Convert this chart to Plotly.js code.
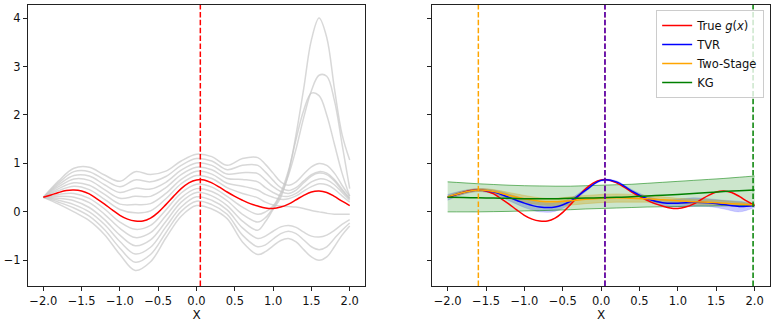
<!DOCTYPE html>
<html>
<head>
<meta charset="utf-8">
<script src="https://cdn.plot.ly/plotly-3.0.1.min.js"></script>
<style>
  html, body { margin: 0; padding: 0; background: white; }
  #chart { width: 775px; height: 323px; }
</style>
</head>
<body>
<div id="chart"></div>
<script>
// fine grid for the true function
const xTrue = [-2.0, -1.9, -1.8, -1.7, -1.6, -1.5, -1.4, -1.3, -1.2, -1.1, -1.0, -0.9, -0.8, -0.7, -0.6, -0.5, -0.4, -0.3, -0.2, -0.1,
    0.0, 0.1, 0.2, 0.3, 0.4, 0.5, 0.6, 0.7, 0.8, 0.9, 1.0, 1.1, 1.2, 1.3, 1.4, 1.5, 1.6, 1.7, 1.8, 1.9, 2.0];
const gTrue = [0.30, 0.35, 0.40, 0.44, 0.45, 0.43, 0.37, 0.27, 0.16, 0.04, -0.07, -0.15, -0.19, -0.19, -0.13, -0.01, 0.15, 0.32, 0.48, 0.60,
    0.66, 0.66, 0.60, 0.51, 0.41, 0.32, 0.24, 0.17, 0.12, 0.08, 0.07, 0.10, 0.16, 0.25, 0.34, 0.41, 0.43, 0.40, 0.32, 0.22, 0.13];

// grid for the grey sample curves (left panel)
const xSamples = [-2.0, -1.8, -1.6, -1.4, -1.2, -1.0, -0.8, -0.6, -0.4, -0.2, 0.0, 0.2, 0.4, 0.6, 0.8,
    0.9, 1.0, 1.1, 1.2, 1.3, 1.4, 1.5, 1.6, 1.7, 1.8, 1.9, 2.0];
const sampleU1 = [0.30, 0.44, 0.53, 0.46, 0.26, 0.05, -0.02, 0.02, 0.27, 0.58, 0.75, 0.69, 0.50, 0.38, 0.29,
    0.20, 0.14, 0.12, 0.11, 0.10, 0.07, 0.03, 0.00, -0.03, -0.05, -0.05, -0.05];
const sampleU2 = [0.30, 0.48, 0.60, 0.55, 0.36, 0.16, 0.15, 0.17, 0.38, 0.67, 0.84, 0.78, 0.59, 0.53, 0.45,
    0.36, 0.30, 0.26, 0.27, 0.33, 0.43, 0.52, 0.58, 0.56, 0.47, 0.33, 0.20];
const sampleU3 = [0.30, 0.52, 0.68, 0.65, 0.46, 0.28, 0.32, 0.32, 0.50, 0.77, 0.92, 0.87, 0.69, 0.67, 0.62,
    0.50, 0.40, 0.33, 0.32, 0.38, 0.50, 0.62, 0.68, 0.66, 0.56, 0.40, 0.24];
const sampleU4 = [0.30, 0.56, 0.75, 0.74, 0.56, 0.40, 0.49, 0.47, 0.61, 0.86, 1.01, 0.96, 0.78, 0.81, 0.79,
    0.66, 0.52, 0.42, 0.38, 0.45, 0.60, 0.74, 0.80, 0.77, 0.64, 0.44, 0.27];
const sampleU5 = [0.30, 0.60, 0.83, 0.83, 0.66, 0.52, 0.66, 0.62, 0.73, 0.96, 1.10, 1.05, 0.87, 0.96, 0.96,
    0.82, 0.65, 0.50, 0.44, 0.50, 0.64, 0.77, 0.83, 0.80, 0.67, 0.47, 0.28];
const sampleU6 = [0.30, 0.64, 0.90, 0.92, 0.76, 0.63, 0.83, 0.77, 0.84, 1.05, 1.19, 1.14, 0.96, 1.10, 1.12,
    0.98, 0.80, 0.62, 0.55, 0.62, 0.78, 0.93, 1.00, 0.96, 0.80, 0.55, 0.32];
const sampleL1 = [0.30, 0.36, 0.38, 0.28, 0.06, -0.21, -0.36, -0.28, 0.04, 0.39, 0.57, 0.51, 0.32, 0.10, -0.05,
    0.00, 0.12, 0.40, 0.85, 1.50, 2.10, 2.45, 2.40, 2.00, 1.40, 0.80, 0.32];
const sampleL2 = [0.30, 0.32, 0.30, 0.19, -0.05, -0.34, -0.53, -0.43, -0.08, 0.29, 0.48, 0.42, 0.23, -0.05, -0.21,
    -0.12, 0.08, 0.35, 0.75, 1.30, 1.95, 2.50, 2.82, 2.80, 2.30, 1.40, 0.48];
const sampleL3 = [0.30, 0.28, 0.23, 0.09, -0.16, -0.48, -0.70, -0.58, -0.20, 0.20, 0.40, 0.33, 0.13, -0.19, -0.38,
    -0.20, 0.05, 0.30, 0.80, 1.60, 2.55, 3.55, 4.00, 3.60, 2.55, 1.60, 1.07];
const sampleL4 = [0.30, 0.24, 0.15, 0.00, -0.26, -0.61, -0.87, -0.73, -0.31, 0.10, 0.31, 0.24, 0.04, -0.33, -0.55,
    -0.50, -0.40, -0.31, -0.28, -0.32, -0.42, -0.50, -0.52, -0.48, -0.38, -0.26, -0.16];
const sampleL5 = [0.30, 0.20, 0.08, -0.09, -0.37, -0.75, -1.04, -0.88, -0.43, 0.01, 0.22, 0.15, -0.05, -0.48, -0.72,
    -0.68, -0.56, -0.45, -0.40, -0.45, -0.58, -0.72, -0.78, -0.72, -0.55, -0.38, -0.23];
const sampleL6 = [0.30, 0.16, 0.00, -0.18, -0.47, -0.88, -1.21, -1.03, -0.54, -0.09, 0.13, 0.06, -0.14, -0.62, -0.88,
    -0.82, -0.70, -0.59, -0.55, -0.62, -0.78, -0.93, -1.00, -0.93, -0.72, -0.48, -0.29];

// grid for the model fits (right panel)
const xFit = [-2.0, -1.8, -1.6, -1.4, -1.2, -1.0, -0.8, -0.6, -0.4, -0.2, 0.0, 0.2, 0.4, 0.6, 0.8, 1.0, 1.2, 1.4, 1.6, 1.8, 2.0];
const tvrMean = [0.30, 0.40, 0.45, 0.41, 0.30, 0.18, 0.10, 0.10, 0.22, 0.45, 0.65, 0.62, 0.43, 0.27, 0.19, 0.18, 0.20, 0.19, 0.15, 0.11, 0.13];
const tvrUpper = [0.36, 0.44, 0.48, 0.45, 0.37, 0.27, 0.20, 0.19, 0.28, 0.48, 0.67, 0.64, 0.46, 0.32, 0.25, 0.26, 0.29, 0.27, 0.24, 0.22, 0.17];
const tvrLower = [0.24, 0.36, 0.42, 0.37, 0.23, 0.09, 0.00, 0.01, 0.16, 0.42, 0.63, 0.60, 0.40, 0.22, 0.13, 0.10, 0.11, 0.11, 0.06, 0.00, 0.09];
const twoStageMean = [0.31, 0.40, 0.45, 0.42, 0.34, 0.27, 0.22, 0.21, 0.23, 0.26, 0.28, 0.29, 0.28, 0.27, 0.25, 0.23, 0.21, 0.20, 0.18, 0.16, 0.14];
const twoStageUpper = [0.33, 0.43, 0.48, 0.46, 0.40, 0.34, 0.29, 0.28, 0.31, 0.34, 0.36, 0.37, 0.36, 0.34, 0.31, 0.28, 0.26, 0.25, 0.23, 0.20, 0.16];
const twoStageLower = [0.29, 0.37, 0.42, 0.38, 0.28, 0.20, 0.15, 0.13, 0.14, 0.17, 0.19, 0.20, 0.20, 0.20, 0.19, 0.18, 0.16, 0.15, 0.13, 0.12, 0.12];
const kgMean = [0.30, 0.295, 0.29, 0.285, 0.28, 0.27, 0.27, 0.27, 0.28, 0.285, 0.29, 0.30, 0.31, 0.33, 0.345, 0.36, 0.38, 0.40, 0.42, 0.435, 0.45];
const kgUpper = [0.62, 0.60, 0.58, 0.565, 0.55, 0.54, 0.535, 0.53, 0.53, 0.54, 0.55, 0.56, 0.57, 0.59, 0.61, 0.63, 0.65, 0.67, 0.69, 0.715, 0.74];
const kgLower = [0.0, 0.0, 0.0, 0.005, 0.01, 0.02, 0.025, 0.035, 0.045, 0.06, 0.07, 0.08, 0.09, 0.10, 0.105, 0.11, 0.12, 0.12, 0.125, 0.13, 0.13];

// chosen points (vertical markers)
const trueArgmax = 0.05;
const tvrPick = 0.05;
const twoStagePick = -1.6;
const kgPick = 1.98;

const xTicks = [-2.0, -1.5, -1.0, -0.5, 0.0, 0.5, 1.0, 1.5, 2.0];
const yTicks = [-1, 0, 1, 2, 3, 4];

const samples = [sampleU6, sampleU5, sampleU4, sampleU3, sampleU2, sampleU1,
    sampleL1, sampleL2, sampleL3, sampleL4, sampleL5, sampleL6];

const dash = '5.5px,2.4px';
const traces = [];

// left panel: grey sample curves and the true function
samples.forEach(ys => {
    traces.push({
        x: xSamples, y: ys, xaxis: 'x', yaxis: 'y', type: 'scatter', mode: 'lines',
        line: { color: 'rgba(200,200,200,0.7)', width: 1.5, shape: 'spline', smoothing: 1 },
        showlegend: false, hoverinfo: 'skip'
    });
});
traces.push({
    x: xTrue, y: gTrue, xaxis: 'x', yaxis: 'y', type: 'scatter', mode: 'lines',
    line: { color: 'red', width: 1.5, shape: 'spline' }, showlegend: false
});

// right panel: bands first, then lines
function band(lower, upper, fillColor, edgeColor) {
    traces.push({
        x: xFit, y: lower, xaxis: 'x2', yaxis: 'y2', type: 'scatter', mode: 'lines',
        line: { color: edgeColor, width: 1, shape: 'spline' }, showlegend: false, hoverinfo: 'skip'
    });
    traces.push({
        x: xFit, y: upper, xaxis: 'x2', yaxis: 'y2', type: 'scatter', mode: 'lines',
        fill: 'tonexty', fillcolor: fillColor,
        line: { color: edgeColor, width: 1, shape: 'spline' }, showlegend: false, hoverinfo: 'skip'
    });
}
band(tvrLower, tvrUpper, 'rgba(0,0,255,0.22)', 'rgba(0,0,255,0.12)');
band(twoStageLower, twoStageUpper, 'rgba(255,165,0,0.3)', 'rgba(255,165,0,0.25)');
band(kgLower, kgUpper, 'rgba(0,128,0,0.2)', 'rgba(0,128,0,0.55)');

traces.push({
    x: xTrue, y: gTrue, xaxis: 'x2', yaxis: 'y2', type: 'scatter', mode: 'lines',
    name: 'True <i>g</i>(<i>x</i>)', line: { color: 'red', width: 1.5, shape: 'spline' }
});
traces.push({
    x: xFit, y: tvrMean, xaxis: 'x2', yaxis: 'y2', type: 'scatter', mode: 'lines',
    name: 'TVR', line: { color: 'blue', width: 1.5, shape: 'spline' }
});
traces.push({
    x: xFit, y: twoStageMean, xaxis: 'x2', yaxis: 'y2', type: 'scatter', mode: 'lines',
    name: 'Two-Stage', line: { color: 'orange', width: 1.5, shape: 'spline' }
});
traces.push({
    x: xFit, y: kgMean, xaxis: 'x2', yaxis: 'y2', type: 'scatter', mode: 'lines',
    name: 'KG', line: { color: 'green', width: 1.5, shape: 'spline' }
});

function vline(xref, yref, x, color, opacity) {
    return {
        type: 'line', xref: xref, yref: yref, x0: x, x1: x, y0: 0, y1: 1,
        opacity: opacity || 1,
        line: { color: color, width: 1.5, dash: dash }
    };
}

const axisStyle = {
    range: [-2.2, 2.2],
    tickvals: xTicks,
    tickformat: '.1f',
    ticks: 'outside', ticklen: 4, tickwidth: 1, tickcolor: '#222',
    showline: true, linecolor: '#222', linewidth: 1, mirror: true,
    showgrid: false, zeroline: false,
    tickfont: { size: 11.5, color: '#111' },
    title: { text: 'X', font: { size: 12, color: '#111' }, standoff: 2 },
    automargin: false
};
const yStyle = {
    range: [-1.53, 4.27],
    tickvals: yTicks,
    ticks: 'outside', ticklen: 4, tickwidth: 1, tickcolor: '#222',
    showline: true, linecolor: '#222', linewidth: 1, mirror: true,
    showgrid: false, zeroline: false,
    tickfont: { size: 11.5, color: '#111' },
    automargin: false
};

const layout = {
    width: 775, height: 323,
    margin: { l: 0, r: 0, t: 5, b: 37 },
    paper_bgcolor: 'white', plot_bgcolor: 'white',
    font: { family: 'DejaVu Sans', color: '#111' },
    xaxis: Object.assign({}, axisStyle, { domain: [0.0361, 0.4710], anchor: 'y' }),
    yaxis: Object.assign({}, yStyle, { domain: [0, 1], anchor: 'x' }),
    xaxis2: Object.assign({}, axisStyle, { domain: [0.5578, 0.9935], anchor: 'y2' }),
    yaxis2: Object.assign({}, yStyle, { domain: [0, 1], anchor: 'x2', showticklabels: false }),
    showlegend: true,
    legend: {
        x: 0.986, xanchor: 'right', y: 0.982, yanchor: 'top',
        traceorder: 'normal',
        bgcolor: 'rgba(255,255,255,0.8)', bordercolor: '#cccccc', borderwidth: 1,
        font: { size: 11.5, color: '#111' },
        itemwidth: 30,
        tracegroupgap: 0
    },
    shapes: [
        vline('x', 'y domain', trueArgmax, 'red'),
        vline('x2', 'y2 domain', twoStagePick, 'orange'),
        vline('x2', 'y2 domain', trueArgmax, 'red'),
        vline('x2', 'y2 domain', tvrPick, 'blue', 0.75),
        vline('x2', 'y2 domain', kgPick, 'green')
    ]
};

Plotly.newPlot('chart', traces, layout, { staticPlot: true, displayModeBar: false });
</script>
</body>
</html>
